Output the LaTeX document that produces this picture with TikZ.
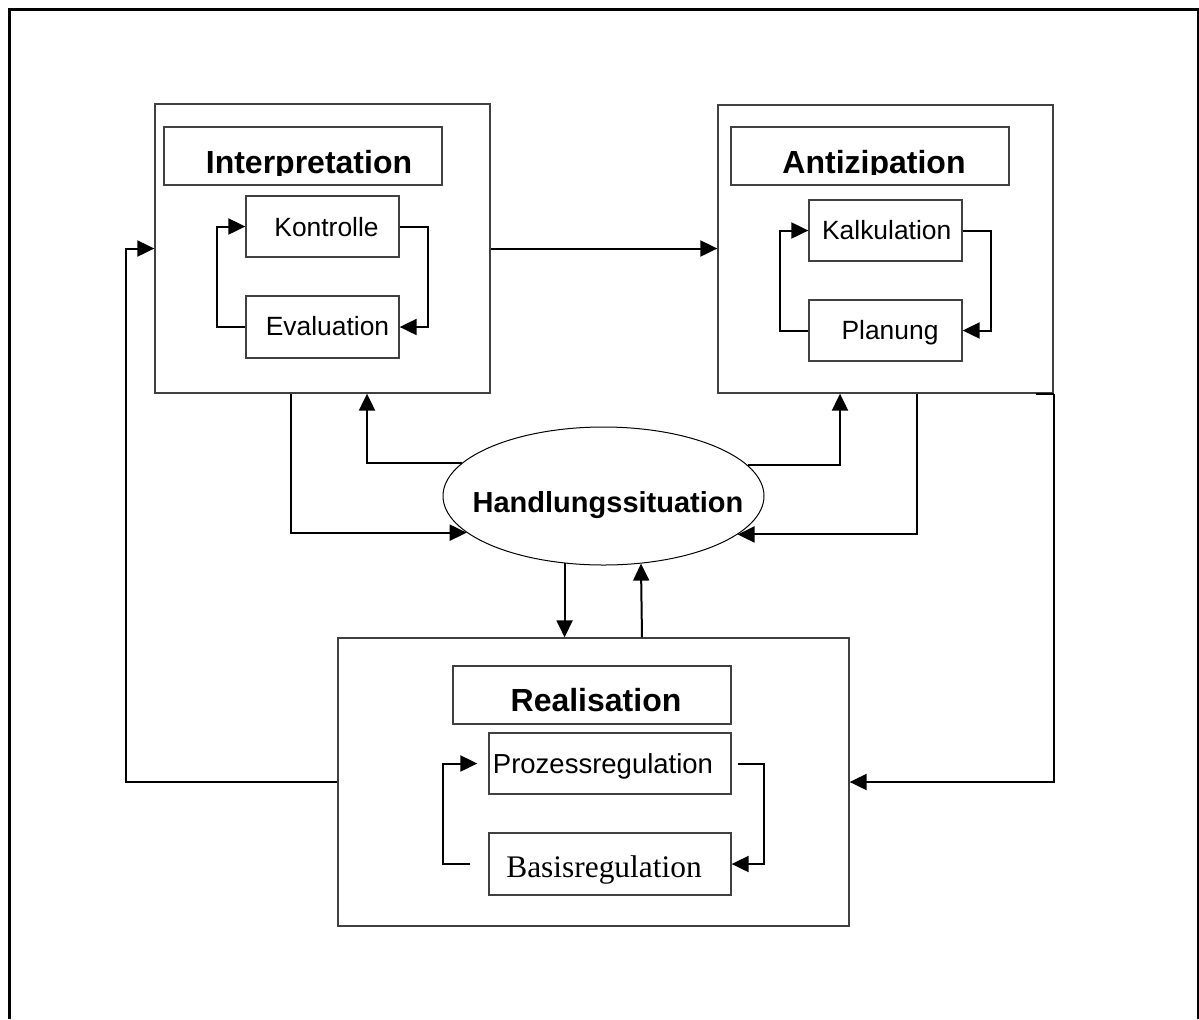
\documentclass[tikz,border=0pt]{standalone}
\usepackage{fontspec}
\setmainfont{Liberation Sans}
\newfontfamily\serifface{Liberation Serif}
\usetikzlibrary{arrows.meta,shapes.geometric}
\begin{document}
\begin{tikzpicture}[x=0.5pt,y=-0.5pt,
  box/.style={draw=black!75,line width=0.65pt,rectangle,inner sep=0pt},
  conn/.style={line width=1pt,-{Triangle[length=8.5pt,width=8pt]}},
  plainline/.style={line width=1pt},
  lbl/.style={anchor=base,inner sep=0pt},
  titletext/.style={lbl,font=\fontsize{16pt}{19pt}\selectfont\bfseries},
  subtext/.style={lbl,font=\fontsize{13.2pt}{16pt}\selectfont},
]
\useasboundingbox (0,0) rectangle (1199,1019);
\fill[white] (0,0) rectangle (1199,1019);
% outer frame (open at the bottom)
\draw[line width=1.5pt] (9,1019) -- (9,9) -- (1198,9) -- (1198,1019);

% Interpretation block
\node[box,minimum width=167.5pt,minimum height=144.5pt] (interp) at (322.5,248.5) {};
\node[box,minimum width=139pt,minimum height=29pt] (interpT) at (303,156) {};
\node[box,minimum width=76.5pt,minimum height=30.5pt] (kon) at (322.5,226.5) {};
\node[box,minimum width=76.5pt,minimum height=31pt] (eva) at (322.5,327) {};
\begin{scope}
  \clip (164,127) rectangle (442,175);
  \node[titletext] (interpL) at (309,173) {Interpretation};
\end{scope}
\node[subtext] (konL) at (326.5,236) {Kontrolle};
\node[subtext] (evaL) at (327.5,335) {Evaluation};

% Antizipation block
\node[box,minimum width=167.5pt,minimum height=144pt] (anti) at (885.5,249) {};
\node[box,minimum width=139pt,minimum height=29pt] (antiT) at (870,156) {};
\node[box,minimum width=76.5pt,minimum height=30.5pt] (kal) at (885.5,230.5) {};
\node[box,minimum width=76.5pt,minimum height=30.5pt] (plan) at (885.5,330.5) {};
\begin{scope}
  \clip (731,127) rectangle (1009,174);
  \node[titletext] (antiL) at (874,173) {Antizipation};
\end{scope}
\node[subtext] (kalL) at (886.7,239) {Kalkulation};
\node[subtext] (planL) at (890,339) {Planung};

% Realisation block
\node[box,minimum width=255.5pt,minimum height=144pt] (real) at (593.5,782) {};
\node[box,minimum width=139pt,minimum height=29pt] (realT) at (592,695) {};
\node[box,minimum width=121pt,minimum height=30.5pt] (proz) at (610,763.5) {};
\node[box,minimum width=121pt,minimum height=31pt] (basis) at (610,864) {};
\node[titletext] (realL) at (596,711) {Realisation};
\node[lbl,font=\fontsize{13.75pt}{16pt}\selectfont] (prozL) at (603,773) {Prozessregulation};
\node[lbl,font=\serifface\fontsize{15.7pt}{18pt}\selectfont] (basisL) at (604,877) {Basisregulation};

% central situation
\node[draw,line width=0.5pt,ellipse,minimum width=160.5pt,minimum height=69pt,inner sep=0pt] (hs) at (603.5,496) {};
\node[lbl,font=\fontsize{14.5pt}{17pt}\selectfont\bfseries] (hsL) at (608,512) {Handlungssituation};

% columns used by the orthogonal connectors
\coordinate (xa) at (291,0);
\coordinate (xb) at (367,0);
\coordinate (xc) at (840,0);
\coordinate (xd) at (917,0);
\coordinate (xf) at (642,0);
\coordinate (xg) at (126,0);
\coordinate (xl1) at (217,0);
\coordinate (xr1) at (428,0);
\coordinate (xl2) at (780,0);
\coordinate (xr2) at (991,0);
\coordinate (xl3) at (443,0);
\coordinate (xr3) at (764,0);

% inner loops
\draw[conn] (kon.east) -| (xr1 |- eva.east) -- (eva.east);
\draw[conn] (eva.west) -| (xl1 |- kon.west) -- (kon.west);
\draw[conn] (kal.east) -| (xr2 |- plan.east) -- (plan.east);
\draw[conn] (plan.west) -| (xl2 |- kal.west) -- (kal.west);
\draw[conn,shorten <=3pt] (proz.east) -| (xr3 |- basis.east) -- (basis.east);
\draw[conn,shorten <=9pt,shorten >=5.5pt] (basis.west) -| (xl3 |- proz.west) -- (proz.west);

% block to block
\draw[conn] (interp.east) -- (interp.east -| anti.west);
\draw[conn] (real.west) -| (xg |- interp.west) -- (interp.west);
\draw[plainline] ([xshift=-9pt]anti.south east) -- (anti.south east);
\draw[conn] (anti.south east) |- (real.east);

% links with the situation
\draw[conn] (interp.south -| xa) |- (hs.195.8);
\draw[conn] (hs.167.8) -| (interp.south -| xb);
\draw[conn] (hs.12.2) -| (anti.south -| xc);
\draw[conn] (anti.south -| xd) |- (hs.344.2);
\draw[conn] (hs.240.8) -- (hs.240.8 |- real.north);
\draw[conn] (real.north -| xf) -- (hs.299.9);
\end{tikzpicture}
\end{document}
